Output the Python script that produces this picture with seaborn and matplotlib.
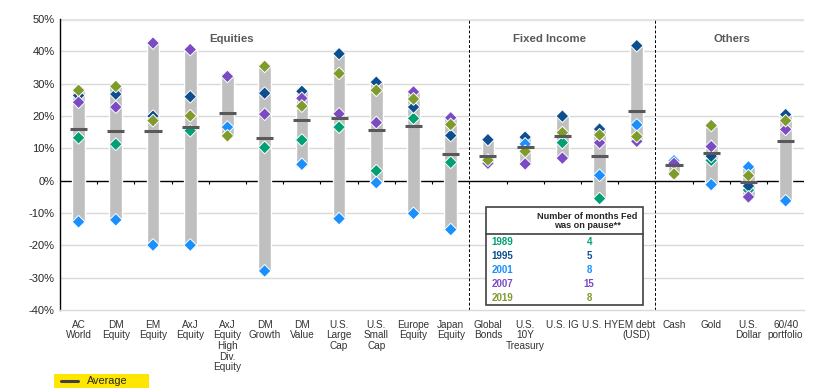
import numpy as np
import pandas as pd
import matplotlib
matplotlib.use("Agg")
import matplotlib.pyplot as plt
from matplotlib.patches import Rectangle
from matplotlib.lines import Line2D
import seaborn as sns

sns.set_style("white")
plt.rcParams['font.family'] = ['Liberation Sans', 'DejaVu Sans']

labels = ["AC\nWorld", "DM\nEquity", "EM\nEquity", "AxJ\nEquity", "AxJ\nEquity\nHigh\nDiv.\nEquity",
          "DM\nGrowth", "DM\nValue", "U.S.\nLarge\nCap", "U.S.\nSmall\nCap", "Europe\nEquity",
          "Japan\nEquity", "Global\nBonds", "U.S.\n10Y\nTreasury", "U.S. IG", "U.S. HY",
          "EM debt\n(USD)", "Cash", "Gold", "U.S.\nDollar", "60/40\nportfolio"]

nan = np.nan
y1989 = [13.3, 11.3, nan, 15.5, nan, 10.3, 12.6, 16.6, 3.1, 19.3, 5.7, nan, nan, 11.8, -5.5, nan, nan, 6.3, -2.9, nan]
y1995 = [26.4, 26.8, 20.0, 26.0, nan, 27.1, 27.7, 39.3, 30.5, 22.8, 14.0, 12.7, 13.5, 20.0, 16.0, 41.8, nan, 7.6, -1.6, 20.5]
y2001 = [-12.7, -12.1, -19.9, -19.9, 16.6, -27.9, 5.1, -11.7, -0.6, -10.1, -15.1, nan, 11.4, nan, 1.7, 17.3, 6.2, -1.2, 4.3, -6.2]
y2007 = [24.3, 22.8, 42.6, 40.6, 32.3, 20.6, 25.5, 20.7, 18.0, 27.5, 19.5, 5.4, 5.2, 7.0, 11.8, 12.2, 5.4, 10.6, -5.0, 15.9]
y2019 = [28.0, 29.2, 18.6, 20.1, 13.9, 35.4, 23.1, 33.2, 28.0, 25.3, 17.4, 6.4, 9.1, 14.9, 14.2, 13.7, 2.1, 17.1, 1.6, 18.6]
average = [16.0, 15.5, 15.3, 16.6, 20.9, 13.1, 18.8, 19.5, 15.8, 17.0, 8.2, 7.8, 10.4, 13.7, 7.8, 21.5, 4.9, 8.5, -0.5, 12.2]

years = ["1989", "1995", "2001", "2007", "2019"]
pause_months = ["4", "5", "8", "15", "8"]
colors = {"1989": "#00A074", "1995": "#0D4E8F", "2001": "#1A90FF", "2007": "#7B4BC4", "2019": "#7E9B2C"}

groups = ["Equities", "Fixed Income", "Others"]
group_pos = [4.1, 12.65, 17.55]

x = np.arange(len(labels))
vals = np.array([y1989, y1995, y2001, y2007, y2019])
lo = np.nanmin(vals, axis=0)
hi = np.nanmax(vals, axis=0)

df = pd.DataFrame({"x": np.tile(x, len(years)),
                   "year": np.repeat(years, len(x)),
                   "ret": vals.ravel()}).dropna()

fig = plt.figure(figsize=(8.17, 3.91), dpi=100)
ax = fig.add_axes([0.0734, 0.207, 0.911, 0.744])

# gridlines
for g in [-30, -20, -10, 10, 20, 30, 40]:
    ax.axhline(g, color="#D9D9D9", lw=1, zorder=0)
ax.axhline(50, color="#E3E3E3", lw=2.5, zorder=0)
ax.axhline(0, color="black", lw=1, zorder=1)
ax.vlines(np.arange(0.5, len(x) - 0.5), -0.9, 0, color="black", lw=0.8, zorder=1)

# range bars
ax.bar(x, hi - lo, bottom=lo, width=0.34, color="#BFBFBF", zorder=2)

sns.scatterplot(data=df, x="x", y="ret", hue="year", palette=colors, marker="D",
                s=42, edgecolor="white", linewidth=0.7, legend=False, ax=ax, zorder=3)

ax.hlines(average, x - 0.23, x + 0.23, color="#595959", lw=2.2, zorder=4)

# section dividers
for d in [10.5, 15.5]:
    ax.axvline(d, color="black", ls=(0, (3, 2)), lw=0.7, zorder=1)

for name, gx in zip(groups, group_pos):
    ax.text(gx, 43.8, name, ha="center", va="center", fontsize=8.2, fontweight="bold", color="#595959")

# table of pause durations
ax.add_patch(Rectangle((10.95, -38.5), 4.22, 30.4, fill=True, facecolor="white",
                       edgecolor="#404040", lw=1.2, zorder=5))
ax.plot([10.95, 15.17], [-16.4, -16.4], color="#404040", lw=1.2, zorder=6)
ax.text(13.68, -12.4, "Number of months Fed\nwas on pause**", ha="center", va="center",
        fontsize=6.6, fontweight="bold", color="#262626", linespacing=1.05, zorder=6)
for i, (yr, m) in enumerate(zip(years, pause_months)):
    yy = -18.8 - i * 4.4
    ax.text(11.1, yy, yr, ha="left", va="center", fontsize=7, fontweight="bold",
            color=colors[yr], zorder=6)
    ax.text(13.72, yy, m, ha="center", va="center", fontsize=7, fontweight="bold",
            color=colors[yr], zorder=6)

ax.set_xlim(-0.5, len(x) - 0.5)
ax.set_ylim(-40, 50)
ax.set_yticks(range(-40, 51, 10))
ax.set_yticklabels([f"{v}%" for v in range(-40, 51, 10)], fontsize=8, color="#262626")
ax.set_xticks(x)
ax.set_xticklabels(labels, fontsize=7.2, color="#333333", linespacing=1.08, va="top")
ax.tick_params(axis="x", length=0, pad=7)
ax.tick_params(axis="y", length=0, pad=4)
ax.set_xlabel("")
ax.set_ylabel("")

for s in ["top", "right"]:
    ax.spines[s].set_visible(False)
ax.spines["left"].set_color("black")
ax.spines["left"].set_linewidth(1)
ax.spines["bottom"].set_color("#D9D9D9")
ax.spines["bottom"].set_linewidth(1)

# legend for average
fig.patches.append(Rectangle((54 / 817, 1 - 388 / 391), 95 / 817, 14 / 391,
                             transform=fig.transFigure, facecolor="#FFE600", edgecolor="none"))
fig.lines.append(Line2D([61 / 817, 78 / 817], [1 - 380.5 / 391] * 2, transform=fig.transFigure,
                        color="#404040", lw=2.2))
fig.text(87 / 817, 1 - 380.5 / 391, "Average", fontsize=7.8, va="center", ha="left", color="#262626")

fig.savefig("out.png", dpi=100)
